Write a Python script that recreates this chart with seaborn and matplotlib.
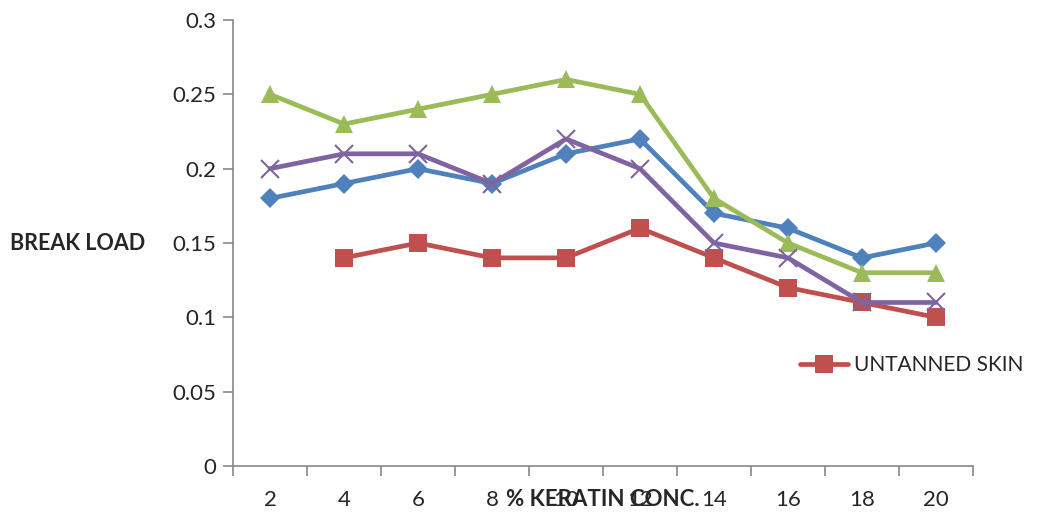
import numpy as np
import pandas as pd
import matplotlib
matplotlib.use("Agg")
import matplotlib.pyplot as plt
import seaborn as sns

conc = ["2", "4", "6", "8", "10", "12", "14", "16", "18", "20"]
blue_vals = [0.18, 0.19, 0.20, 0.19, 0.21, 0.22, 0.17, 0.16, 0.14, 0.15]
red_vals = [np.nan, 0.14, 0.15, 0.14, 0.14, 0.16, 0.14, 0.12, 0.11, 0.10]
green_vals = [0.25, 0.23, 0.24, 0.25, 0.26, 0.25, 0.18, 0.15, 0.13, 0.13]
purple_vals = [0.20, 0.21, 0.21, 0.19, 0.22, 0.20, 0.15, 0.14, 0.11, 0.11]

sns.set_style("white")
plt.rcParams['font.family'] = ['Lato', 'DejaVu Sans']

fig = plt.figure(figsize=(10.43, 5.18), dpi=100)
ax = fig.add_axes([233 / 1043, 1 - 466 / 518, 740 / 1043, 446 / 518])

pos = np.arange(len(conc))
series = [
    (blue_vals, "#4F81BD", "D", 10.5, "_blue"),
    (red_vals, "#C0504D", "s", 12.5, "UNTANNED SKIN"),
    (green_vals, "#9BBB59", "^", 13.5, "_green"),
    (purple_vals, "#8064A2", "x", 12.5, "_purple"),
]
handles = []
for vals, col, mk, ms, lab in series:
    df = pd.DataFrame({"x": pos, "y": vals}).dropna()
    sns.lineplot(data=df, x="x", y="y", ax=ax, color=col, lw=3.4, marker=mk,
                 markersize=ms, markeredgecolor=col, markeredgewidth=1.5 if mk == "x" else 0,
                 label=lab, legend=False)
    if not lab.startswith("_"):
        handles.append(ax.lines[-1])

ax.set_xlim(-0.5, len(conc) - 0.5)
ax.set_ylim(0, 0.3)
ax.set_yticks(np.arange(0, 0.301, 0.05))
ax.set_yticklabels(["0", "0.05", "0.1", "0.15", "0.2", "0.25", "0.3"])
ax.set_xticks(np.arange(-0.5, len(conc), 1.0))
ax.set_xticklabels([])
ax.set_xticks(pos, minor=True)
ax.set_xticklabels(conc, minor=True)
ax.tick_params(axis="x", which="major", bottom=True, length=7, color="#888888", width=1.2, direction="out")
ax.tick_params(axis="x", which="minor", bottom=True, length=0, pad=17, labelsize=16)
ax.tick_params(axis="y", left=True, length=7, color="#888888", width=1.2, direction="out", labelsize=16, pad=5)

for s in ["top", "right"]:
    ax.spines[s].set_visible(False)
for s in ["left", "bottom"]:
    ax.spines[s].set_color("#888888")
    ax.spines[s].set_linewidth(1.2)

ax.set_xlabel("")
ax.set_ylabel("")
fig.text(10 / 1043, 1 - 243 / 518, "BREAK LOAD", fontsize=15.5, fontweight="bold", va="center", ha="left")
fig.text(603 / 1043, 1 - 500 / 518, "% KERATIN CONC.", fontsize=16, fontweight="bold", va="center", ha="center")

fig.legend(handles=handles, labels=["UNTANNED SKIN"], loc="center left",
           bbox_to_anchor=(800 / 1043, 1 - 365 / 518), frameon=False, fontsize=15,
           handlelength=2.3, handletextpad=0.3, borderaxespad=0, borderpad=0)

fig.savefig("out.png", dpi=100)
